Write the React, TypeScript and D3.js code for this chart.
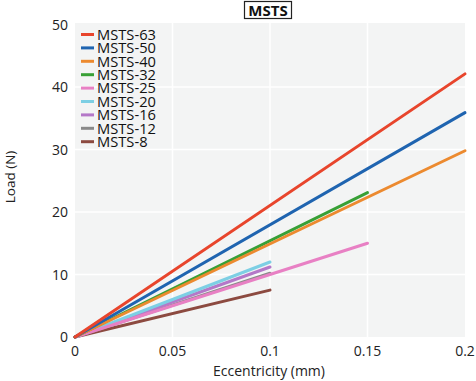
import React from "react";
import * as d3 from "d3";

const seriesNames = ["MSTS-63", "MSTS-50", "MSTS-40", "MSTS-32", "MSTS-25", "MSTS-20", "MSTS-16", "MSTS-12", "MSTS-8"];
const seriesColors = ["#e8452c", "#1f64b0", "#ec8a2f", "#38a036", "#e880c4", "#7dcfe4", "#b478c8", "#898989", "#8c4a40"];
const endX = [0.2, 0.2, 0.2, 0.15, 0.15, 0.1, 0.1, 0.1, 0.1];
const endY = [42.1, 35.9, 29.8, 23.1, 15.0, 12.0, 11.2, 10.2, 7.5];
const xTicks = [0, 0.05, 0.1, 0.15, 0.2];
const yTicks = [0, 10, 20, 30, 40, 50];

const W = 476, H = 381;
const L = 75, R = 465, T = 24.5, B = 337;
const font = "'Open Sans', 'Noto Sans', sans-serif";

export default function App() {
  const x = d3.scaleLinear().domain([0, 0.2]).range([L, R]);
  const y = d3.scaleLinear().domain([0, 50]).range([B, T]);
  const line = d3.line<[number, number]>().x(d => x(d[0])).y(d => y(d[1]));
  const fmt = (v: number) => (v === 0 ? "0" : String(v));
  const order = seriesNames.map((_, i) => i).reverse();
  return (
    <svg width={W} height={H} style={{ position: "absolute", left: 0, top: 0 }} fontFamily={font}>
      <rect x={0} y={0} width={W} height={H} fill="#fff" />
      <rect x={L} y={T - 1.5} width={R - L} height={B - T + 1.5} fill="#f3f4f4" />
      {xTicks.filter(t => t > 0 && t < 0.2).map(t => (
        <line key={"gx" + t} x1={x(t)} x2={x(t)} y1={T - 1.5} y2={B} stroke="#fff" strokeWidth={1.5} />
      ))}
      {yTicks.filter(t => t > 0 && t < 50).map(t => (
        <line key={"gy" + t} x1={L} x2={R} y1={y(t)} y2={y(t)} stroke="#fff" strokeWidth={1.5} />
      ))}
      {order.map(i => (
        <path key={seriesNames[i]} d={line([[0, 0], [endX[i], endY[i]]]) || ""} fill="none"
          stroke={seriesColors[i]} strokeWidth={3} strokeLinecap="round" />
      ))}
      {xTicks.map(t => (
        <text key={"tx" + t} x={x(t)} y={B + 19} textAnchor="middle" fontSize={14} fill="#222">{fmt(t)}</text>
      ))}
      {yTicks.map(t => (
        <text key={"ty" + t} x={L - 7} y={y(t) + 5} textAnchor="end" fontSize={14} fill="#222">{t}</text>
      ))}
      <text x={269} y={376} textAnchor="middle" fontSize={14} fill="#222">Eccentricity (mm)</text>
      <text transform={`translate(15,177) rotate(-90)`} textAnchor="middle" fontSize={13.5} fill="#222">Load (N)</text>
      <rect x={244.5} y={1.5} width={47} height={17} fill="#fff" stroke="#222" strokeWidth={1.2} />
      <text x={268} y={15.5} textAnchor="middle" fontSize={15} fontWeight="bold" fill="#111">MSTS</text>
      {seriesNames.map((n, i) => {
        const yy = 34.5 + i * 13.4;
        return (
          <g key={"lg" + n}>
            <line x1={81} x2={94} y1={yy} y2={yy} stroke={seriesColors[i]} strokeWidth={3} />
            <text x={97} y={yy + 5.3} fontSize={14.7} fill="#111">{n}</text>
          </g>
        );
      })}
    </svg>
  );
}
